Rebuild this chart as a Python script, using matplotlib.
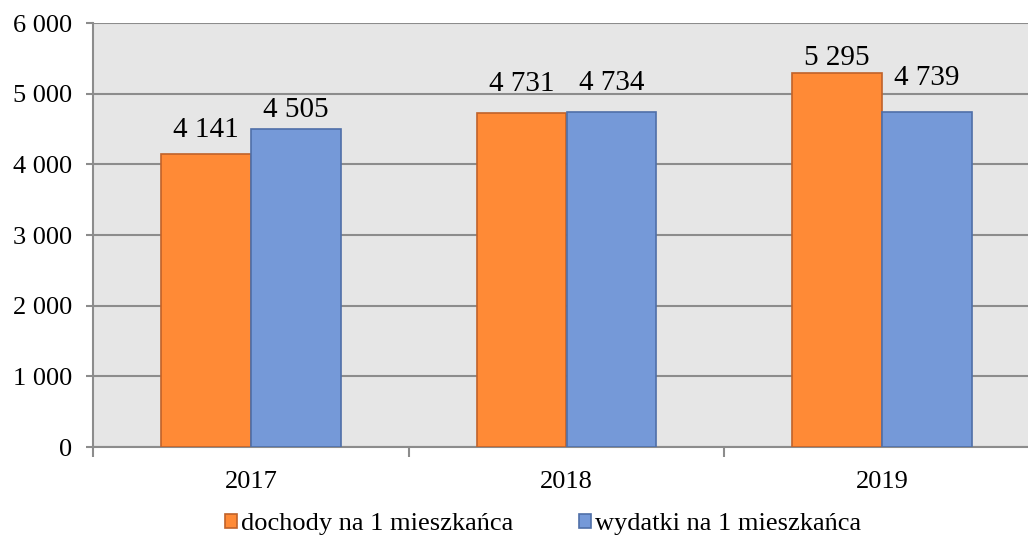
import matplotlib
matplotlib.use("Agg")
import matplotlib.pyplot as plt
import numpy as np

years = ["2017", "2018", "2019"]
dochody = [4141, 4731, 5295]
wydatki = [4505, 4734, 4739]
series_names = ["dochody na 1 mieszkańca", "wydatki na 1 mieszkańca"]
y_ticks = [0, 1000, 2000, 3000, 4000, 5000, 6000]

def fmt(v):
    return f"{v:,}".replace(",", " ")

plt.rcParams['font.family'] = ['Liberation Serif', 'DejaVu Serif']

fig = plt.figure(figsize=(10.28, 5.45), dpi=100)
ax = fig.add_axes([93/1028, 1-447/545, (1040-93)/1028, (447-23)/545])
ax.set_facecolor('#e6e6e6')

x = np.arange(len(years))
w = 0.285
c1, e1 = '#ff8a36', '#c0622a'
c2, e2 = '#7599d8', '#4f6fa8'
b1 = ax.bar(x - w/2, dochody, w, color=c1, edgecolor=e1, linewidth=1.2, zorder=3, label=series_names[0])
b2 = ax.bar(x + w/2, wydatki, w, color=c2, edgecolor=e2, linewidth=1.2, zorder=3, label=series_names[1])

off1 = [17, 22, 8]
off2 = [12, 22, 27]
for i, v in enumerate(dochody):
    ax.annotate(fmt(v), (x[i] - w/2, v), xytext=(0, off1[i]*0.72), textcoords='offset points',
                ha='center', va='baseline', fontsize=21, zorder=4)
for i, v in enumerate(wydatki):
    ax.annotate(fmt(v), (x[i] + w/2, v), xytext=(0, off2[i]*0.72), textcoords='offset points',
                ha='center', va='baseline', fontsize=21, zorder=4)

ax.set_ylim(0, 6000)
ax.set_xlim(-0.5, 2.5)
ax.set_yticks(y_ticks)
ax.set_yticklabels([fmt(t) for t in y_ticks], fontsize=19)
ax.yaxis.grid(True, color='#8c8c8c', linewidth=1.5, zorder=0)
ax.set_axisbelow(True)

ax.set_xticks(x)
ax.set_xticklabels(years, fontsize=19)
ax.set_xticks([-0.5, 0.5, 1.5, 2.5], minor=True)
ax.tick_params(axis='x', which='major', length=0, pad=17)
ax.tick_params(axis='x', which='minor', length=7, width=1.5, color='#8c8c8c')
ax.tick_params(axis='y', length=5, width=1.5, color='#8c8c8c', pad=10)

for s in ['top', 'right']:
    ax.spines[s].set_visible(False)
ax.spines['left'].set_color('#8c8c8c')
ax.spines['left'].set_linewidth(1.5)
ax.spines['bottom'].set_color('#8c8c8c')
ax.spines['bottom'].set_linewidth(1.5)

fig.legend(handles=[b1, b2], labels=series_names, loc='center', bbox_to_anchor=(543/1028, 1-524/545),
           ncol=2, frameon=False, fontsize=19, handlelength=0.45, handleheight=0.45,
           handletextpad=0.15, columnspacing=2.5)

fig.savefig("out.png", dpi=100)
